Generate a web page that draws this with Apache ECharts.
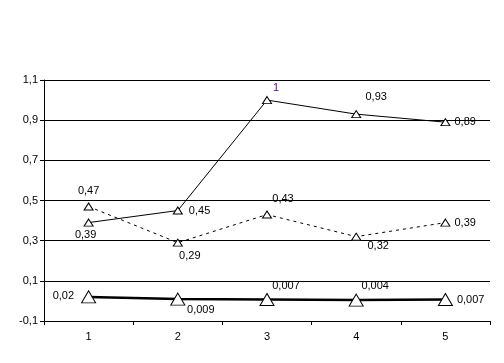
<!DOCTYPE html>
<html><head><meta charset="utf-8">
<script src="https://cdn.jsdelivr.net/npm/echarts@6/dist/echarts.min.js"></script>
<style>html,body{margin:0;padding:0;background:#fff}#c{width:504px;height:363px}</style>
</head><body><div id="c"></div>
<script>
const categories = ['1','2','3','4','5'];
const seriesA = [0.39, 0.45, 1, 0.93, 0.89];
const seriesB = [0.47, 0.29, 0.43, 0.32, 0.39];
const seriesC = [0.02, 0.009, 0.007, 0.004, 0.007];
const yTickLabels = ['-0,1','0,1','0,3','0,5','0,7','0,9','1,1'];

// axis runs from -0.1 to 1.1; plotted on shifted scale so ticks fall at -0.1, 0.1, ...
const SHIFT = 0.1;
const fmt = v => String(v).replace('.', ',');

const labA = [
  {position:'bottom', offset:[-3,-2]},
  {position:'right', distance:6},
  {position:'top', offset:[9,2], color:'#5a0a80'},
  {position:'top', offset:[20,-3]},
  {position:'right', distance:4}
];
const labB = [
  {position:'top', offset:[0,-1]},
  {position:'bottom', offset:[12,-1]},
  {position:'top', offset:[16,-1]},
  {position:'bottom', offset:[22,-5]},
  {position:'right', distance:4}
];
const labC = [
  {position:'left', offset:[-2,-1]},
  {position:'bottom', offset:[23,-6]},
  {position:'top', offset:[19,3]},
  {position:'top', offset:[19,3]},
  {position:'right', distance:4}
];

function build(vals, labs, opts) {
  return {
    type:'line',
    data: vals.map((v,i)=>({value: v + SHIFT, label: Object.assign({}, labs[i])})),
    symbol:'triangle',
    symbolSize: opts.size,
    showAllSymbol:true,
    itemStyle:{color:'#fff', borderColor:'#000', borderWidth:1},
    lineStyle:{color:'#000', width:opts.width, type:opts.type},
    label:{show:true, color:'#000', fontFamily:'Liberation Sans, Arial, sans-serif', fontSize:11,
      formatter: p => fmt(vals[p.dataIndex])},
    emphasis:{disabled:true},
    z: opts.z
  };
}

const chart = echarts.init(document.getElementById('c'), null, {renderer:'canvas'});
chart.setOption({
  animation:false,
  backgroundColor:'#fff',
  grid:{left:44, right:14, top:80, bottom:42},
  xAxis:{
    type:'category', data:categories, boundaryGap:true,
    axisLine:{lineStyle:{color:'#000', width:1}},
    axisTick:{show:true, length:4, lineStyle:{color:'#000'}},
    axisLabel:{color:'#000', fontFamily:'Liberation Sans, Arial, sans-serif', fontSize:11, margin:10},
    splitLine:{show:false}
  },
  yAxis:{
    type:'value', min:0, max:1.2, interval:0.2,
    axisLine:{show:true, lineStyle:{color:'#000', width:1}},
    axisTick:{show:true, length:4, lineStyle:{color:'#000'}},
    axisLabel:{color:'#000', fontFamily:'Liberation Sans, Arial, sans-serif', fontSize:11, margin:6,
      formatter:(v)=>{ const i = Math.round(v/0.2); return yTickLabels[i] || ''; }},
    splitLine:{show:true, lineStyle:{color:'#000', width:1}}
  },
  series:[
    build(seriesA, labA, {size:[9,7], width:1, type:'solid', z:3}),
    build(seriesB, labB, {size:[9,7], width:1, type:[3,4], z:3}),
    build(seriesC, labC, {size:[14,12], width:2.5, type:'solid', z:4})
  ]
});
</script></body></html>
